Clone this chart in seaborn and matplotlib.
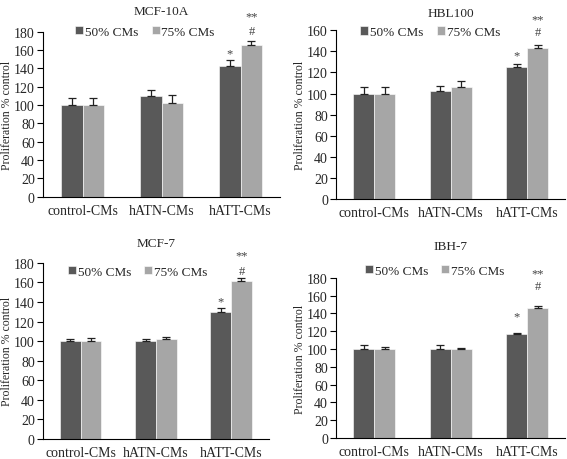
import numpy as np
import pandas as pd
import seaborn as sns
import matplotlib
matplotlib.use('Agg')
import matplotlib.pyplot as plt

# categories and series
groups = ['control-CMs', 'hATN-CMs', 'hATT-CMs']
series = ['50% CMs', '75% CMs']
panels = ['MCF-10A', 'HBL100', 'MCF-7', 'IBH-7']

# mean values per panel: [50% list, 75% list]
means = {
    'MCF-10A': [[100, 110, 143], [100, 102, 165]],
    'HBL100': [[100, 102, 125], [100, 106, 143]],
    'MCF-7': [[100, 100, 130], [100, 102, 161]],
    'IBH-7': [[99.5, 100.5, 116.5], [99.5, 99.5, 146]],
}
errs = {
    'MCF-10A': [[8, 6, 6], [8, 9, 5]],
    'HBL100': [[6, 5, 3], [6, 6, 3]],
    'MCF-7': [[2.5, 2.5, 3.5], [3.5, 2.5, 3]],
    'IBH-7': [[4.5, 3.5, 2], [2.5, 1.5, 2.5]],
}
ymax = {'MCF-10A': 180, 'HBL100': 160, 'MCF-7': 180, 'IBH-7': 180}

# layout per panel
rects = {
    'MCF-10A': [0.076, 0.570, 0.418, 0.359],
    'HBL100': [0.593, 0.565, 0.404, 0.367],
    'MCF-7': [0.076, 0.0435, 0.398, 0.383],
    'IBH-7': [0.593, 0.0457, 0.404, 0.348],
}
title_pad = {'MCF-10A': 13, 'HBL100': 10, 'MCF-7': 12, 'IBH-7': 21}
legend_y = {'MCF-10A': 1.0, 'HBL100': 0.99, 'MCF-7': 0.95, 'IBH-7': 1.045}
legend_x = {'MCF-10A': 0.43, 'HBL100': 0.41, 'MCF-7': 0.42, 'IBH-7': 0.43}
# pixel offsets of '*', '#', '**' above the error caps
sig_off = {'MCF-10A': (9, 10, 27), 'HBL100': (11, 13, 28),
           'MCF-7': (9, 7, 25), 'IBH-7': (18, 20, 35)}

sns.set_style('white')
plt.rcParams['font.family'] = ['Liberation Serif', 'DejaVu Serif']
fs = 10
colors = ['#595959', '#a6a6a6']

fig = plt.figure(figsize=(5.67, 4.6), dpi=100)

for name in panels:
    ax = fig.add_axes(rects[name])
    rows = []
    for si, s in enumerate(series):
        for gi, g in enumerate(groups):
            rows.append({'group': g, 'series': s,
                         'value': means[name][si][gi], 'err': errs[name][si][gi]})
    df = pd.DataFrame(rows)
    sns.barplot(data=df, x='group', y='value', hue='series', order=groups,
                hue_order=series, palette=colors, width=0.55, errorbar=None,
                edgecolor='white', linewidth=0.4, saturation=1, ax=ax)
    bar_sets = list(ax.containers)
    # error bars (upper only) at bar centres
    tops = []
    for si, cont in enumerate(bar_sets):
        xs = [p.get_x() + p.get_width() / 2 for p in cont]
        sub = df[df['series'] == series[si]]
        ax.errorbar(xs, sub['value'], yerr=[np.zeros(3), sub['err']], fmt='none',
                    ecolor='#222222', elinewidth=0.9, capsize=3, capthick=0.9)
        tops.append((xs[2], sub['value'].iloc[2] + sub['err'].iloc[2]))
    (sx, sy), (hx, hy) = tops
    o1, o2, o3 = sig_off[name]
    kw = dict(textcoords='offset pixels', ha='center', va='center',
              fontsize=9, color='#444444')
    ax.annotate('*', (sx, sy), xytext=(0, o1 - 2), **kw)
    ax.annotate('#', (hx, hy), xytext=(0, o2), **kw)
    ax.annotate('**', (hx, hy), xytext=(0, o3 - 2), **kw)

    ax.set_xlim(-0.5, 2.5)
    ax.set_ylim(0, ymax[name])
    ax.set_yticks(np.arange(0, ymax[name] + 1, 20))
    ax.set_xticks([-0.5, 0.5, 1.5, 2.5], minor=True)
    ax.tick_params(axis='x', which='major', length=0, labelsize=fs, pad=5)
    ax.tick_params(axis='x', which='minor', length=4, width=0.8, direction='out', color='black')
    ax.tick_params(axis='y', length=4, width=0.8, direction='out', labelsize=fs, color='black', pad=2)
    ax.tick_params(bottom=True, left=True)
    ax.set_xlabel('')
    ax.set_ylabel('Proliferation % control', fontsize=8.5, labelpad=0.5)
    ax.set_title(name, fontsize=9.5, pad=title_pad[name])
    sns.despine(ax=ax)
    for sp in ('left', 'bottom'):
        ax.spines[sp].set_color('black')
        ax.spines[sp].set_linewidth(0.8)
    ax.legend(loc='center', bbox_to_anchor=(legend_x[name], legend_y[name]), ncol=2,
              frameon=False, fontsize=9.5, handlelength=0.6, handleheight=0.6,
              handletextpad=0.15, columnspacing=1.0, borderaxespad=0)

fig.savefig('out.png', dpi=100)
